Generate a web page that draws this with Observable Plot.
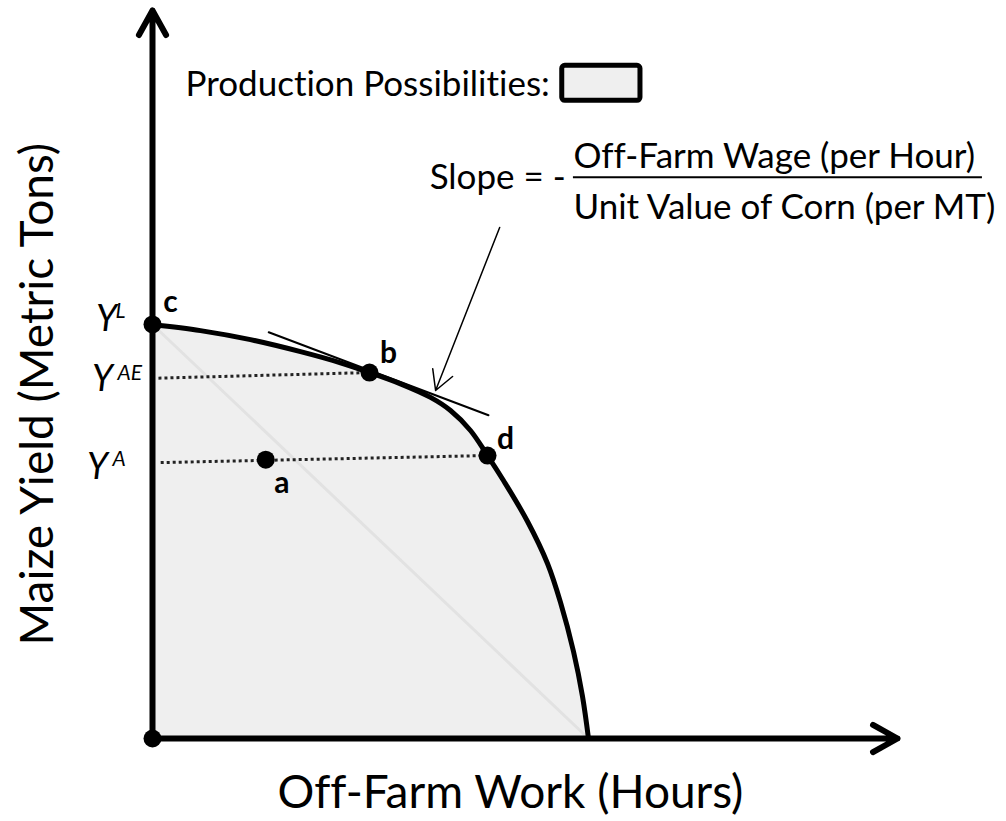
<!DOCTYPE html>
<html><head><meta charset="utf-8">
<script src="https://cdn.jsdelivr.net/npm/d3@7"></script>
<script src="https://cdn.jsdelivr.net/npm/@observablehq/plot@0.6"></script>
<style>
html,body{margin:0;padding:0;background:#fff;overflow:hidden;}
#chart svg{display:block;}
#chart text{font-variant-ligatures:none;font-feature-settings:"liga" 0;}
</style></head><body><div id="chart"></div>
<script>
// ---- Data (conceptual units: off-farm hours 0..100, maize yield 0..100) ----
const frontierHours = [0, 6.44, 13.15, 19.87, 25.23, 29.13, 33.29, 37.32, 40.0, 42.68, 44.97, 47.11, 50.34, 53.02, 54.77, 56.51, 57.72, 58.52];
const frontierYield = [56.87, 56.03, 54.79, 53.14, 51.61, 50.27, 48.71, 46.85, 45.05, 42.31, 38.87, 35.44, 29.81, 24.04, 18.68, 11.95, 5.77, 0];
const pointNames = ["c", "b", "d", "a"];
const pointHours = [0, 29.13, 44.97, 15.2];
const pointYield = [56.87, 50.27, 38.87, 38.3];
const yLevelMain = ["Y", "Y", "Y"];
const yLevelSup = ["L", "AE", "A"];
const yLevelStartHours = [0, 0.8, 1.1];
const yLevelStartYield = [56.87, 49.5, 37.9];
const dottedEnds = ["c", "b", "d"];
const tangentHours = [15.6, 45.1];
const tangentYield = [55.8, 44.4];
const slopeArrowHours = [46.6, 38.0];
const slopeArrowYield = [70.2, 47.8];
const axisMaxHours = 100;
const axisMaxYield = 100;
const xTitle = "Off-Farm Work (Hours)";
const yTitle = "Maize Yield (Metric Tons)";
const legendLabel = "Production Possibilities:";
const slopeLabel = "Slope = -";
const slopeNumerator = "Off-Farm Wage (per Hour)";
const slopeDenominator = "Unit Value of Corn (per MT)";

// ---- Build tables ----
const frontier = frontierHours.map((h, i) => ({h, y: frontierYield[i]}));
const points = pointNames.map((n, i) => ({name: n, h: pointHours[i], y: pointYield[i]}));
const byName = Object.fromEntries(points.map(p => [p.name, p]));
const origin = [{h: 0, y: 0}];
const xIntercept = frontier[frontier.length - 1];
const diagonal = [frontier[0], xIntercept];
const dotted = yLevelSup.map((s, i) => ({
  x1: yLevelStartHours[i], y1: yLevelStartYield[i],
  x2: byName[dottedEnds[i]].h, y2: byName[dottedEnds[i]].y
})).filter((d, i) => i > 0);
const tangent = tangentHours.map((h, i) => ({h, y: tangentYield[i]}));
const slopeArrow = [{x1: slopeArrowHours[0], y1: slopeArrowYield[0], x2: slopeArrowHours[1], y2: slopeArrowYield[1]}];
const axes = [
  {x1: 0, y1: 0, x2: axisMaxHours, y2: 0},
  {x1: 0, y1: 0, x2: 0, y2: axisMaxYield}
];
const yLevels = yLevelSup.map((s, i) => ({main: yLevelMain[i], sup: s, h: 0, y: yLevelStartYield[i]}));

// ---- Layout (pixel offsets for annotations) ----
const pointLabelOffset = {c: [18, -12], b: [19, -10], d: [18, -7], a: [16, 33]};
const yMainOffset = [[-46, 7], [-50, 13], [-55, 16]];
const ySupOffset = [[-37, -6], [-35, 2], [-40, 3]];

const W = 1006, H = 821;
const FONT = "Lato, 'Open Sans', sans-serif";

const chart = Plot.plot({
  width: W, height: H,
  marginLeft: 152, marginRight: W - 897, marginTop: 10, marginBottom: H - 738,
  x: {domain: [0, axisMaxHours], axis: null},
  y: {domain: [0, axisMaxYield], axis: null},
  style: {fontFamily: FONT, background: "white", overflow: "visible", color: "black"},
  marks: [
    Plot.areaY(frontier, {x: "h", y: "y", fill: "#efefef", curve: "catmull-rom"}),
    Plot.line(diagonal, {x: "h", y: "y", stroke: "#e2e2e2", strokeWidth: 3}),
    Plot.link(dotted, {x1: "x1", y1: "y1", x2: "x2", y2: "y2", stroke: "#222", strokeWidth: 3, strokeDasharray: "3,3"}),
    Plot.line(frontier, {x: "h", y: "y", stroke: "black", strokeWidth: 5, curve: "catmull-rom"}),
    Plot.line(tangent, {x: "h", y: "y", stroke: "black", strokeWidth: 2}),
    Plot.arrow(axes, {x1: "x1", y1: "y1", x2: "x2", y2: "y2", stroke: "black", strokeWidth: 6,
      headLength: 7, headAngle: 58, strokeLinecap: "round", strokeLinejoin: "round"}),
    Plot.arrow(slopeArrow, {x1: "x1", y1: "y1", x2: "x2", y2: "y2", stroke: "black", strokeWidth: 1.5,
      headLength: 22, headAngle: 58}),
    Plot.dot(origin, {x: "h", y: "y", r: 9, fill: "black"}),
    Plot.dot(points, {x: "h", y: "y", r: 9, fill: "black"}),
    // point labels
    ...points.map(p => Plot.text([p], {x: "h", y: "y", text: "name", fontWeight: "bold", fontSize: 30,
      textAnchor: "middle", lineAnchor: "bottom", dx: pointLabelOffset[p.name][0], dy: pointLabelOffset[p.name][1], fill: "black"})),
    // Y level labels
    ...yLevels.map((d, i) => Plot.text([d], {x: "h", y: "y", text: "main", fontStyle: "italic", fontSize: 36,
      textAnchor: "middle", lineAnchor: "bottom", dx: yMainOffset[i][0], dy: yMainOffset[i][1], fill: "black"})),
    ...yLevels.map((d, i) => Plot.text([d], {x: "h", y: "y", text: "sup", fontStyle: "italic", fontSize: 21,
      textAnchor: "start", lineAnchor: "bottom", dx: ySupOffset[i][0], dy: ySupOffset[i][1], fill: "black"})),
    // axis titles
    Plot.text([xTitle], {x: 48.05, y: -9.6, text: d => d, fontSize: 46, textAnchor: "middle", lineAnchor: "bottom", fill: "black"}),
    Plot.text([yTitle], {x: -15.4, y: 47.3, text: d => d, fontSize: 46, rotate: -90, textAnchor: "middle", lineAnchor: "middle", fill: "black"}),
    // legend
    Plot.text([legendLabel], {x: 4.43, y: 88.3, text: d => d, fontSize: 35, textAnchor: "start", lineAnchor: "bottom", fill: "black"}),
    Plot.rect([{}], {x1: 55.0, x2: 65.5, y1: 87.6, y2: 92.4, fill: "#efefef", stroke: "black", strokeWidth: 5, rx: 3}),
    // slope annotation
    Plot.text([slopeLabel], {x: 37.2, y: 75.5, text: d => d, fontSize: 35, textAnchor: "start", lineAnchor: "bottom", fill: "black"}),
    Plot.text([slopeNumerator], {x: 56.5, y: 78.4, text: d => d, fontSize: 35, textAnchor: "start", lineAnchor: "bottom", fill: "black"}),
    Plot.ruleY([77.1], {x1: 56.5, x2: 111.4, stroke: "black", strokeWidth: 2}),
    Plot.text([slopeDenominator], {x: 56.5, y: 71.4, text: d => d, fontSize: 35, textAnchor: "start", lineAnchor: "bottom", fill: "black"})
  ]
});
document.getElementById("chart").appendChild(chart);
</script>
</body></html>
